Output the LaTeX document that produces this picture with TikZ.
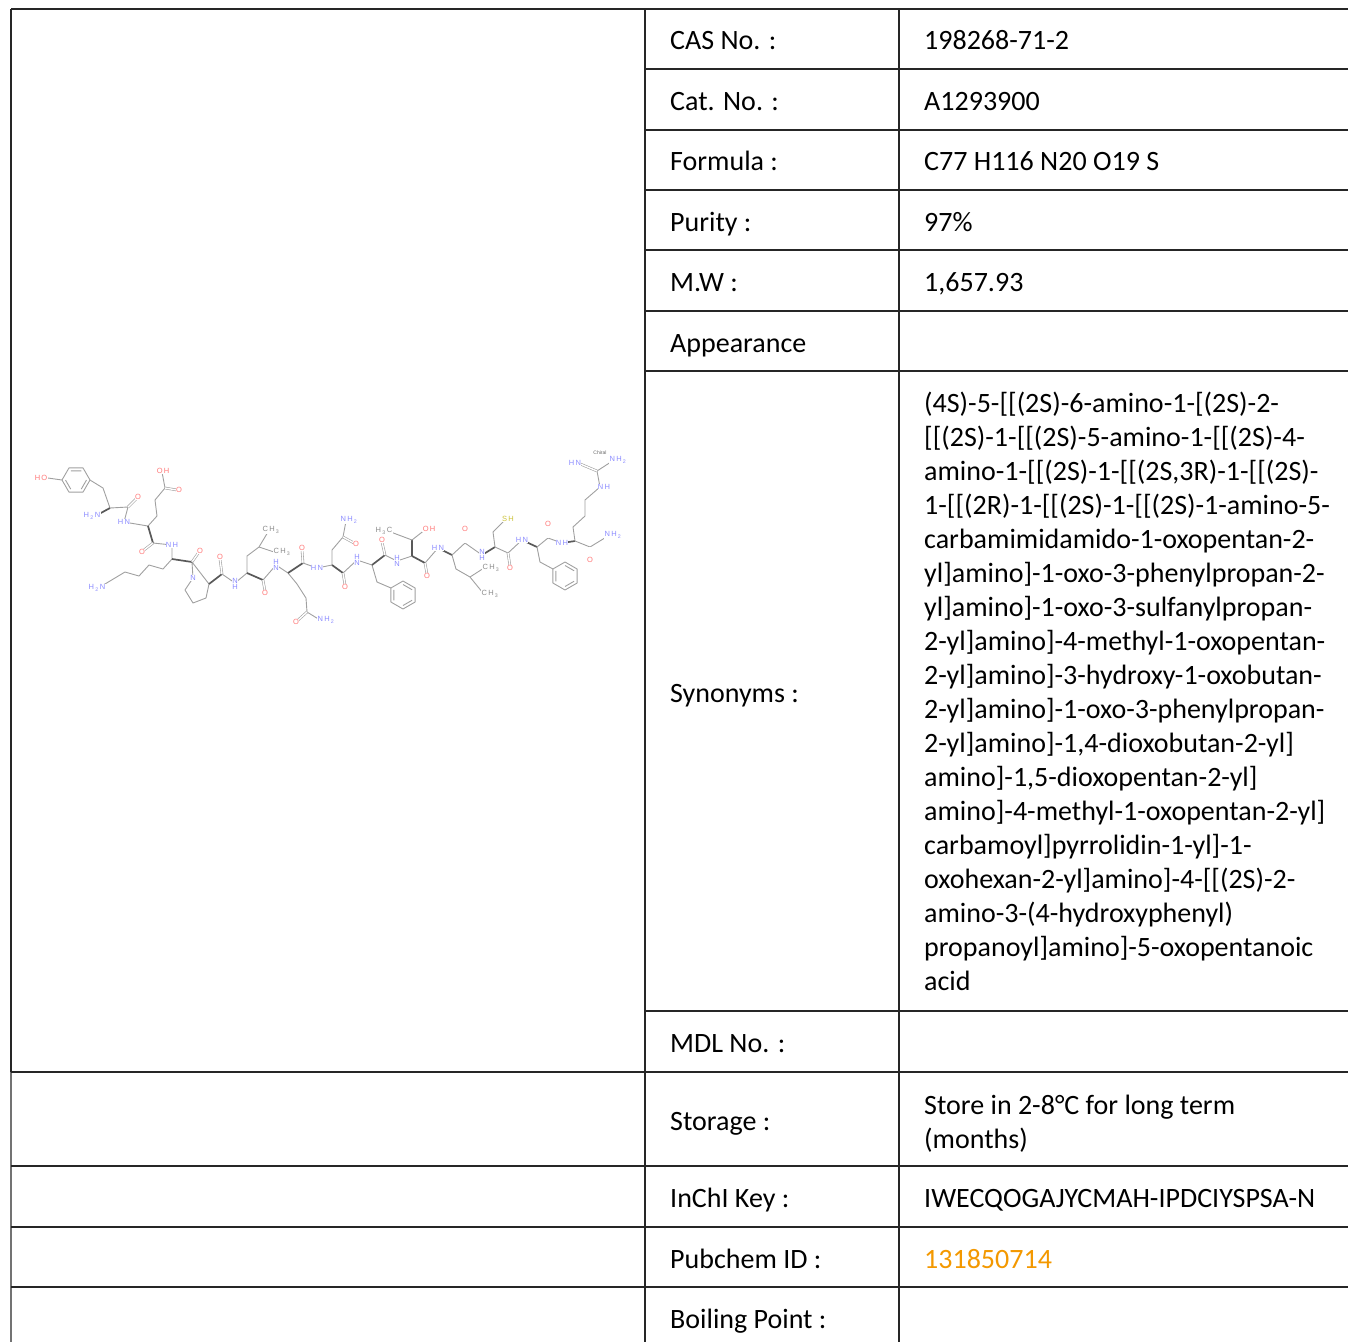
\documentclass[tikz,border=0pt]{standalone}
\usepackage{fontspec}
\setmainfont{Carlito}
\setsansfont{Liberation Sans}
\usetikzlibrary{shapes}
\definecolor{pubchem}{RGB}{243,152,0}
\definecolor{bondgray}{RGB}{160,160,160}
\definecolor{oxy}{RGB}{255,120,120}
\definecolor{nitro}{RGB}{140,140,255}
\definecolor{sulf}{RGB}{205,195,60}
\tikzstyle{tablerule} = [draw, line width=2.2pt, black!85]
\tikzstyle{fieldname} = [anchor=base west, inner sep=0pt, font=\fontsize{28}{34}\selectfont]
\tikzstyle{fieldvalue} = [fieldname, align=flush left]
\tikzstyle{bond} = [draw=bondgray, line width=0.9pt, line join=round]
\tikzstyle{dbond} = [bond, double=white, double distance=1.4pt, line width=0.6pt]
\tikzstyle{wedge} = [draw=black!65, line width=1.7pt]
\tikzstyle{atom} = [inner sep=0.4pt, fill=white, align=center, font=\fontsize{7.5}{6.5}\sffamily]
\tikzstyle{atomO} = [atom, text=oxy]
\tikzstyle{atomN} = [atom, text=nitro]
\tikzstyle{atomS} = [atom, text=sulf]
\tikzstyle{atomC} = [atom, text=black!45]
\newcommand{\phenyl}[2]{%
  \draw [bond] (#1) +(#2:14) -- +(#2+60:14) -- +(#2+120:14) -- +(#2+180:14) -- +(#2+240:14) -- +(#2+300:14) -- cycle;
  \draw [bond] (#1) +(#2:10.5) -- +(#2+60:10.5) +(#2+120:10.5) -- +(#2+180:10.5) +(#2+240:10.5) -- +(#2+300:10.5);}
\newcommand{\htwo}{H\,\textsubscript{2}\,N}
\newcommand{\nhtwo}{N\,H\,\textsubscript{2}}
\newcommand{\chthree}{C\,H\,\textsubscript{3}}

\begin{document}
\begin{tikzpicture}[x=1pt, y=-1pt]
		\useasboundingbox (0,0) rectangle (1348,1342);
		
		\draw [tablerule] (11,9) -- (1348,9);
		\draw [tablerule, line width=2.6pt] (11,9) -- (11,1072);
		\draw [tablerule, line width=1.6pt, black!55] (11,1072) -- (11,1342);
		\draw [tablerule] (645,9) -- (645,1342);
		\draw [tablerule] (899,9) -- (899,1342);
		\foreach \y in {69,130,190,250,311,371,1011}
			\draw [tablerule] (645,\y) -- (1348,\y);
		\foreach \y in {1072,1166,1227,1287}
			\draw [tablerule] (11,\y) -- (1348,\y);
		
		\node [fieldname] (cas) at (670,49) {CAS No. :};
		\node [fieldname] (cat) at (670,110) {Cat. No. :};
		\node [fieldname] (formula) at (670,170) {Formula :};
		\node [fieldname] (purity) at (670,231) {Purity :};
		\node [fieldname] (mw) at (670,291) {M.W :};
		\node [fieldname] (appearance) at (670,352) {Appearance};
		\node [fieldname] (synonyms) at (670,702) {Synonyms :};
		\node [fieldname] (mdl) at (670,1052) {MDL No. :};
		\node [fieldname] (storage) at (670,1130) {Storage :};
		\node [fieldname] (inchi) at (670,1207) {InChI Key :};
		\node [fieldname] (pubchem) at (670,1268) {Pubchem ID :};
		\node [fieldname] (boiling) at (670,1328) {Boiling Point :};
		
		\node [fieldvalue] (casval) at (924,49) {198268-71-2};
		\node [fieldvalue] (catval) at (924,110) {A1293900};
		\node [fieldvalue] (formulaval) at (924,170) {C77 H116 N20 O19 S};
		\node [fieldvalue] (purityval) at (924,231) {97\%};
		\node [fieldvalue] (mwval) at (924,291) {1,657.93};
		\node [fieldvalue, text width=420pt] (synonymsval) at (924,412) {(4S)-5-[[(2S)-6-amino-1-[(2S)-2-\\{}[[(2S)-1-[[(2S)-5-amino-1-[[(2S)-4-\\{}amino-1-[[(2S)-1-[[(2S,3R)-1-[[(2S)-\\{}1-[[(2R)-1-[[(2S)-1-[[(2S)-1-amino-5-\\{}carbamimidamido-1-oxopentan-2-\\{}yl]amino]-1-oxo-3-phenylpropan-2-\\{}yl]amino]-1-oxo-3-sulfanylpropan-\\{}2-yl]amino]-4-methyl-1-oxopentan-\\{}2-yl]amino]-3-hydroxy-1-oxobutan-\\{}2-yl]amino]-1-oxo-3-phenylpropan-\\{}2-yl]amino]-1,4-dioxobutan-2-yl]\\{}amino]-1,5-dioxopentan-2-yl]\\{}amino]-4-methyl-1-oxopentan-2-yl]\\{}carbamoyl]pyrrolidin-1-yl]-1-\\{}oxohexan-2-yl]amino]-4-[[(2S)-2-\\{}amino-3-(4-hydroxyphenyl)\\{}propanoyl]amino]-5-oxopentanoic\\{}acid};
		\node [fieldvalue, text width=420pt] (storageval) at (924,1114) {Store in 2-8°C for long term\\{}(months)};
		\node [fieldvalue] (inchival) at (924,1207) {IWECQOGAJYCMAH-IPDCIYSPSA-N};
		\node [fieldvalue, text=pubchem] (pubchemval) at (924,1268) {131850714};
		
		\phenyl{76,480}{0}
		\draw [bond] (48,478) -- (62,480);
		\draw [bond] (90,480) -- (103,488) -- (110,508) -- (128,507) -- (124,522) -- (148,526) -- (157,516) -- (155,500) -- (165,488) -- (162,472);
		\draw [wedge] (110,508) -- (99,514);
		\draw [dbond] (128,507) -- (136,499);
		\draw [dbond] (165,488) -- (177,490);
		\draw [wedge] (148,526) -- (153,543);
		\draw [dbond] (153,543) -- (144,550);
		\draw [bond] (153,543) -- (172,545) -- (172,559) -- (163,569) -- (149,565) -- (139,576) -- (125,572) -- (100,587);
		\draw [wedge] (172,559) -- (192,562);
		\draw [dbond] (192,562) -- (199,552);
		\draw [bond] (192,562) -- (193,578) -- (185,590) -- (193,603) -- (206,598) -- (209,584) -- cycle;
		\draw [wedge] (209,584) -- (222,574);
		\draw [dbond] (222,574) -- (220,559);
		\draw [bond] (222,574) -- (235,583) -- (247,573) -- (247,556) -- (259,547) -- (268,532);
		\draw [bond] (259,547) -- (274,552);
		\draw [wedge] (247,573) -- (263,580);
		\draw [dbond] (263,580) -- (265,591);
		\draw [bond] (263,580) -- (276,565) -- (288,573) -- (297,584) -- (306,598) -- (307,612) -- (320,620);
		\draw [dbond] (307,612) -- (297,621);
		\draw [wedge] (288,573) -- (303,563);
		\draw [dbond] (303,563) -- (302,550);
		\draw [bond] (303,563) -- (317,568) -- (332,565) -- (332,550) -- (343,537) -- (346,521);
		\draw [dbond] (343,537) -- (354,543);
		\draw [wedge] (332,565) -- (343,573);
		\draw [dbond] (343,573) -- (345,585);
		\draw [bond] (343,573) -- (357,560) -- (372,565) -- (377,582) -- (391,588);
		\phenyl{403,595}{30}
		\draw [wedge] (372,565) -- (385,555);
		\draw [dbond] (385,555) -- (382,542);
		\draw [bond] (385,555) -- (397,561) -- (412,556);
		\draw [wedge] (412,556) -- (412,540);
		\draw [bond] (388,531) -- (412,540) -- (426,529);
		\draw [wedge] (412,556) -- (425,563);
		\draw [dbond] (425,563) -- (427,574);
		\draw [bond] (425,563) -- (438,548);
		\draw [wedge] (438,548) -- (452,555);
		\draw [bond] (452,555) -- (465,543) -- (482,555);
		\draw [dbond] (465,543) -- (465,531);
		\draw [bond] (452,555) -- (456,569) -- (470,577) -- (484,568);
		\draw [bond] (470,577) -- (483,593);
		\draw [wedge] (482,555) -- (495,547);
		\draw [bond] (495,547) -- (493,532) -- (505,520);
		\draw [bond] (495,547) -- (508,553) -- (522,540);
		\draw [dbond] (508,553) -- (510,566);
		\draw [wedge] (522,540) -- (537,547);
		\draw [bond] (537,547) -- (548,538) -- (562,543);
		\draw [dbond] (548,538) -- (548,526);
		\draw [bond] (537,547) -- (540,562) -- (553,569);
		\phenyl{565,576}{30}
		\draw [wedge] (562,543) -- (575,541);
		\draw [bond] (575,541) -- (573,527) -- (585,516) -- (585,500) -- (600,487) -- (597,471) -- (614,460);
		\draw [dbond] (597,471) -- (578,463);
		\draw [bond] (575,541) -- (590,547) -- (608,536);
		\draw [dbond] (590,547) -- (590,558);
		
		\node [atomO] (tyrho) at (41,478) {H\,O};
		\node [atomN] (tyrn) at (92,516) {\htwo};
		\node [atomO] (tyro) at (138,497) {O};
		\node [atomN] (glun) at (124,522) {H\,N};
		\node [atomO] (gluoh) at (163,471) {O\,H};
		\node [atomO] (gluod) at (179,490) {O};
		\node [atomO] (gluo) at (142,552) {O};
		\node [atomN] (lysn) at (172,545) {N\,H};
		\node [atomN] (lysnz) at (97,588) {\htwo};
		\node [atomO] (lyso) at (200,551) {O};
		\node [atomN] (pron) at (193,578) {N};
		\node [atomO] (proo) at (220,557) {O};
		\node [atomN] (leun) at (235,584) {N\\H};
		\node [atomC] (leume1) at (271,530) {\chthree};
		\node [atomC] (leume2) at (282,552) {\chthree};
		\node [atomO] (leuo) at (265,593) {O};
		\node [atomN] (glnn) at (276,565) {H\\N};
		\node [atomO] (glnod) at (296,622) {O};
		\node [atomN] (glnnh) at (326,620) {\nhtwo};
		\node [atomO] (glno) at (302,548) {O};
		\node [atomN] (asnn) at (317,568) {H\,N};
		\node [atomN] (asnnh) at (349,520) {\nhtwo};
		\node [atomO] (asnod) at (356,544) {O};
		\node [atomO] (asno) at (345,587) {O};
		\node [atomN] (phen) at (357,560) {H\\N};
		\node [atomO] (pheo) at (382,540) {O};
		\node [atomN] (thrn) at (397,561) {H\\N};
		\node [atomC] (thrme) at (384,531) {H\,\textsubscript{3}\,C};
		\node [atomO] (throh) at (429,529) {O\,H};
		\node [atomO] (thro) at (427,576) {O};
		\node [atomN] (leu2n) at (438,548) {H\,N};
		\node [atomO] (leu2o) at (465,529) {O};
		\node [atomC] (leu2me1) at (491,568) {\chthree};
		\node [atomC] (leu2me2) at (490,594) {\chthree};
		\node [atomN] (cysn) at (482,555) {N\\H};
		\node [atomS] (cyssh) at (508,519) {S\,H};
		\node [atomO] (cyso) at (510,568) {O};
		\node [atomN] (phe2n) at (522,540) {H\,N};
		\node [atomO] (phe2o) at (548,524) {O};
		\node [atomN] (argn) at (562,543) {N\,H};
		\node [atomN] (argne) at (604,487) {N\,H};
		\node [atomN] (argnim) at (575,463) {H\,N};
		\node [atomN] (argnh) at (618,460) {\nhtwo};
		\node [atomC, text=black!60, font=\fontsize{5}{5}\sffamily] (chiral) at (600,453) {Chiral};
		\node [atomN] (argamide) at (613,535) {\nhtwo};
		\node [atomO] (argo) at (590,560) {O};
		
	\end{tikzpicture}
\end{document}
